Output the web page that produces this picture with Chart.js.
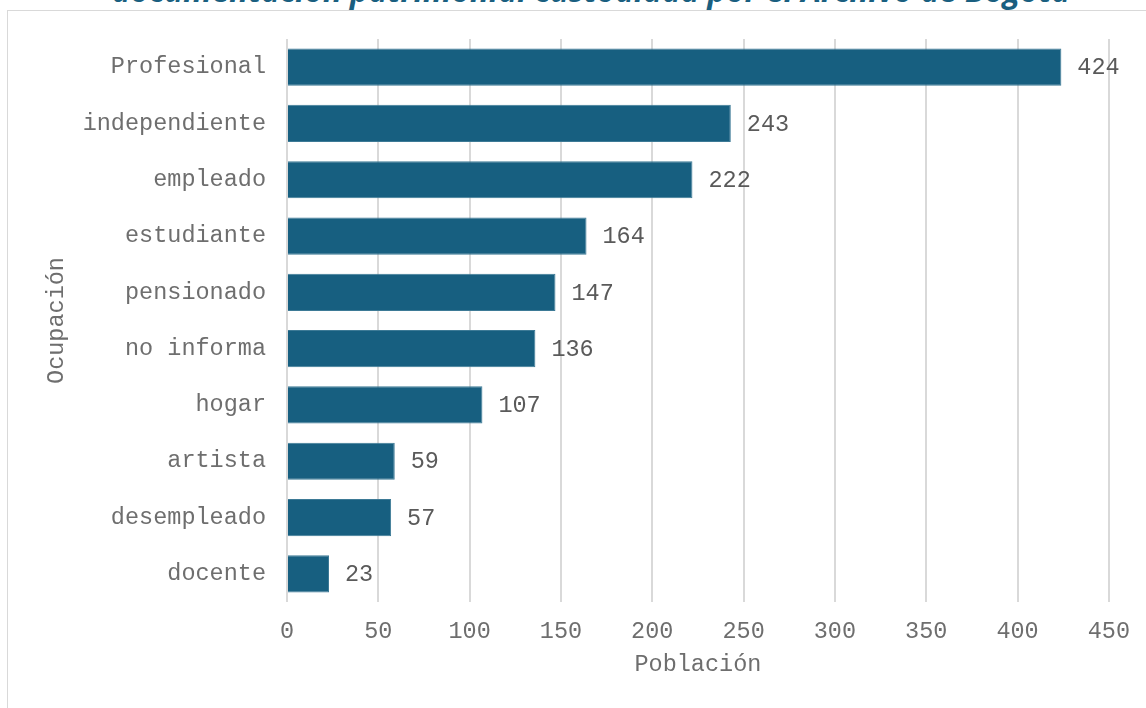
<!DOCTYPE html>
<html>
<head>
<meta charset="utf-8">
<script src="https://cdn.jsdelivr.net/npm/chart.js@4/dist/chart.umd.min.js"></script>
<style>
  html, body { margin: 0; padding: 0; background: #fff; overflow: hidden; }
  body { width: 1146px; height: 708px; position: relative; }
  #frame { position: absolute; left: 7px; top: 10px; width: 1200px; height: 800px; border: 1px solid #d9d9d9; box-sizing: border-box; }
  #title { position: absolute; left: 0; width: 1182px; top: -31px; text-align: center; font: italic bold 31.5px 'Open Sans', sans-serif; color: #1a5f80; white-space: nowrap; line-height: 42px; }
  #wrap { position: absolute; left: 0; top: 0; width: 1146px; height: 708px; }
</style>
</head>
<body>
<div id="frame"></div>
<div id="title">documentación patrimonial custodiada por el Archivo de Bogotá</div>
<div id="wrap"><canvas id="chart"></canvas></div>
<script>
var CATEGORIES = ['Profesional', 'independiente', 'empleado', 'estudiante', 'pensionado',
  'no informa', 'hogar', 'artista', 'desempleado', 'docente'];
var POBLACION = [424, 243, 222, 164, 147, 136, 107, 59, 57, 23];
var X_MAX = 450;
var X_STEP = 50;

var BAR = '#175f80';
var TEXT = '#6e6e6e';
var GRID = '#d9d9d9';
var MONO = "'Liberation Mono', 'Courier New', monospace";
var FS = 23.5;

// value labels at the end of each bar
var valueLabels = {
  id: 'valueLabels',
  afterDatasetsDraw: function (chart) {
    var ctx = chart.ctx;
    var meta = chart.getDatasetMeta(0);
    ctx.save();
    ctx.font = FS + 'px ' + MONO;
    ctx.fillStyle = '#5a5a5a';
    ctx.textBaseline = 'middle';
    ctx.textAlign = 'left';
    meta.data.forEach(function (bar, i) {
      ctx.fillText(String(chart.data.datasets[0].data[i]), bar.x + 16, bar.y + 1);
    });
    ctx.restore();
  },
};

new Chart(document.getElementById('chart'), {
  type: 'bar',
  data: {
    labels: CATEGORIES,
    datasets: [{
      label: 'Población',
      data: POBLACION,
      backgroundColor: BAR,
      borderColor: '#3d7a96',
      borderWidth: 1,
      categoryPercentage: 1,
      barPercentage: 0.66,
    }],
  },
  options: {
    indexAxis: 'y',
    responsive: true,
    maintainAspectRatio: false,
    animation: false,
    layout: { padding: { top: 39, right: 37, left: 0, bottom: 0 } },
    plugins: { legend: { display: false }, tooltip: { enabled: false } },
    scales: {
      x: {
        min: 0,
        max: X_MAX,
        border: { display: false },
        grid: { color: GRID, lineWidth: 2, drawTicks: false },
        ticks: { stepSize: X_STEP, color: TEXT, padding: 16, font: { family: MONO, size: FS } },
        title: { display: true, text: 'Población', color: TEXT, padding: { top: 0, bottom: 29 }, font: { family: MONO, size: FS } },
        afterFit: function (s) { s.height = 106; },
      },
      y: {
        border: { display: false },
        grid: { display: false, drawTicks: false },
        ticks: { color: TEXT, padding: 21, font: { family: MONO, size: FS } },
        title: { display: true, text: 'Ocupación', color: TEXT, padding: { top: 43, bottom: 0 }, font: { family: MONO, size: FS } },
        afterFit: function (s) { s.width = 287; },
      },
    },
  },
  plugins: [valueLabels],
});
</script>
</body>
</html>
